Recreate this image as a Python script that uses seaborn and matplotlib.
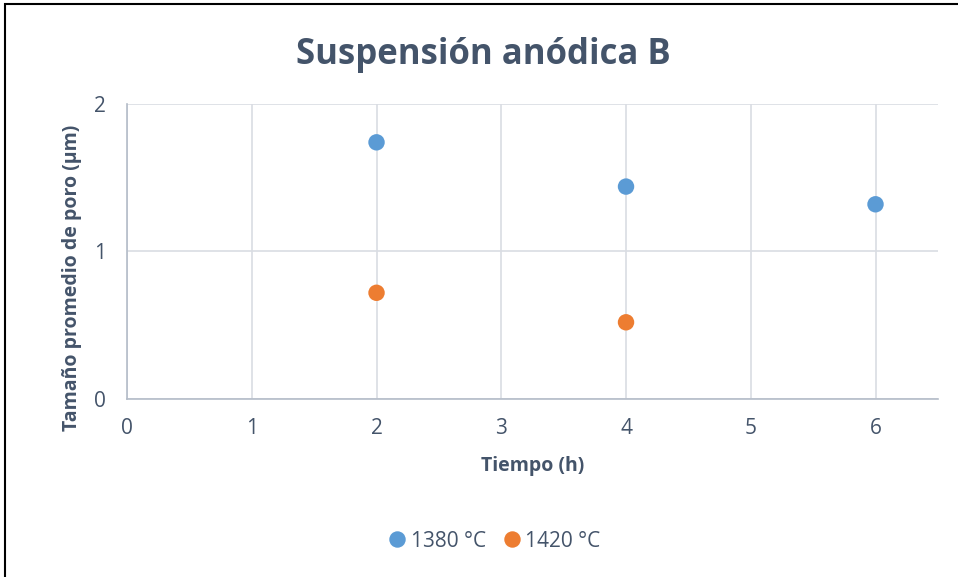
import matplotlib
matplotlib.use("Agg")
import matplotlib.pyplot as plt
import seaborn as sns
import pandas as pd
from matplotlib.patches import Rectangle

time_1380 = [2, 4, 6]
size_1380 = [1.74, 1.44, 1.32]
time_1420 = [2, 4]
size_1420 = [0.72, 0.52]
series_labels = ["1380 °C", "1420 °C"]
colors = ["#5B9BD5", "#ED7D31"]

df = pd.DataFrame({
    "Tiempo": time_1380 + time_1420,
    "Tamaño": size_1380 + size_1420,
    "Serie": [series_labels[0]] * len(time_1380) + [series_labels[1]] * len(time_1420),
})

sns.set_theme(style="white")
plt.rcParams['font.family'] = ['Open Sans', 'DejaVu Sans']
txt = "#44546A"

fig = plt.figure(figsize=(9.58, 5.77), dpi=100)
ax = fig.add_axes([0.1326, 0.3085, 0.979 - 0.1326, 0.8198 - 0.3085])

sns.scatterplot(data=df, x="Tiempo", y="Tamaño", hue="Serie",
                palette=dict(zip(series_labels, colors)), s=140,
                edgecolor="none", ax=ax, legend=True, zorder=3)

ax.set_xlim(0, 6.5)
ax.set_ylim(0, 2)
ax.set_xticks(range(0, 7))
ax.set_yticks([0, 1, 2])
ax.grid(True, color="#D9DDE3", linewidth=1.2)
ax.set_axisbelow(True)
for s in ["top", "right"]:
    ax.spines[s].set_visible(False)
for s in ["left", "bottom"]:
    ax.spines[s].set_color("#B4BCC8")
    ax.spines[s].set_linewidth(1.2)
ax.tick_params(axis="both", colors=txt, labelsize=15, length=0)
ax.tick_params(axis="x", pad=14)
ax.tick_params(axis="y", pad=15)
ax.set_xlabel("Tiempo (h)", color=txt, fontsize=14, fontweight="bold", labelpad=12)
ax.set_ylabel("Tamaño promedio de poro (µm)", color=txt, fontsize=14, fontweight="bold")
ax.yaxis.set_label_coords(-0.056, 0.41)

fig.text(0.505, 0.905, "Suspensión anódica B", ha="center", va="center",
         fontsize=25, fontweight="bold", color=txt)

handles, labels = ax.get_legend_handles_labels()
ax.legend(handles, labels, loc="center", bbox_to_anchor=(0.51, 0.062),
          bbox_transform=fig.transFigure, ncol=2, frameon=False,
          fontsize=15, labelcolor=txt, handletextpad=-0.35, columnspacing=0.25,
          markerscale=1.0)

fig.patches.append(Rectangle((5 / 958, -0.1), 1.2, 1 - 4 / 577 + 0.1,
                             transform=fig.transFigure, fill=False,
                             edgecolor="black", linewidth=1.5))

fig.savefig("out.png", dpi=100)
